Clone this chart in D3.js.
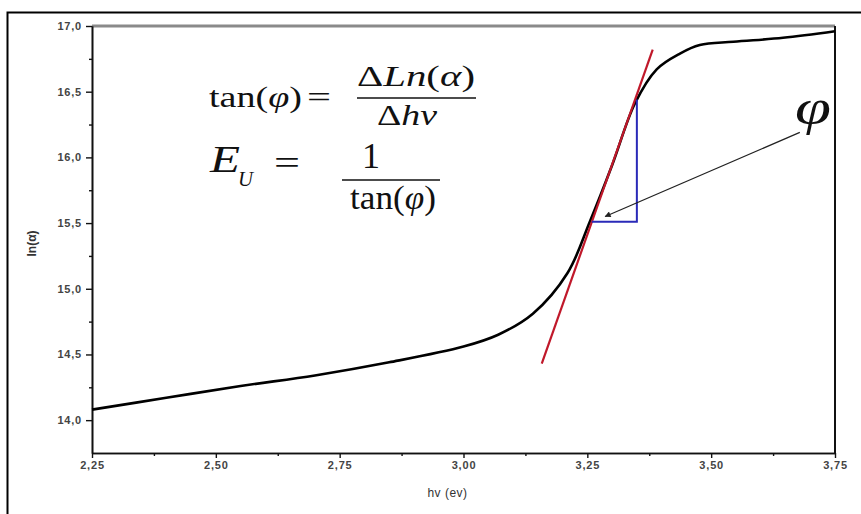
<!DOCTYPE html>
<html>
<head>
<meta charset="utf-8">
<script src="https://cdn.jsdelivr.net/npm/d3@7"></script>
<style>
  body { margin: 0; background: #fff; overflow: hidden; }
  .tick text { font-family: "Liberation Sans", Arial, sans-serif; font-size: 11px; fill: #444; font-weight: bold; letter-spacing: 0.8px; }
</style>
</head>
<body>
<div id="chart"></div>
<script>
var svgWidth = 861;
var svgHeight = 514;

var margin = {top: 26, right: 26, bottom: 61, left: 92};
var width = svgWidth - margin.left - margin.right;
var height = svgHeight - margin.top - margin.bottom;

// curve ln(alpha) vs photon energy
var hv = [2.25, 2.40, 2.55, 2.70, 2.85, 3.00, 3.07, 3.14, 3.21, 3.255, 3.30, 3.346, 3.39, 3.437, 3.477, 3.545, 3.645, 3.75];
var lnAlpha = [14.08, 14.17, 14.26, 14.34, 14.44, 14.56, 14.65, 14.81, 15.12, 15.51, 15.94, 16.41, 16.67, 16.79, 16.855, 16.88, 16.91, 16.96];

// tangent (red)
var tangentX = [3.158, 3.382];
var tangentY = [14.43, 16.82];

// triangle (blue)
var triX = [3.259, 3.350, 3.350];
var triY = [15.51, 15.51, 16.44];

// arrow from phi label to the angle
var arrowX = [3.679, 3.286];
var arrowY = [16.19, 15.55];

var xTicks = [2.25, 2.50, 2.75, 3.00, 3.25, 3.50, 3.75];
var xMinor = [2.375, 2.625, 2.875, 3.125, 3.375, 3.625];
var yTicks = [14.0, 14.5, 15.0, 15.5, 16.0, 16.5, 17.0];
var yMinor = [14.25, 14.75, 15.25, 15.75, 16.25, 16.75];

var svg = d3.select("#chart")
    .append("svg")
        .attr("width", svgWidth)
        .attr("height", svgHeight)
        .style("display", "block");

// outer frame: only left and top edges show
svg.append("path")
    .attr("d", "M7.5,514 L7.5,12.5 L861,12.5")
    .style("fill", "none").style("stroke", "#000").style("stroke-width", 2);

var chartGroup = svg.append("g")
    .attr("transform", `translate(${margin.left}, ${margin.top})`);

var x = d3.scaleLinear().domain([2.25, 3.75]).range([0, width]);
var y = d3.scaleLinear().domain([13.75, 17.0]).range([height, 0]);

var comma = function(f) { return function(d) { return d3.format(f)(d).replace(".", ","); }; };

// top border (grey)
chartGroup.append("line")
    .attr("x1", 0).attr("x2", width).attr("y1", 0).attr("y2", 0)
    .style("stroke", "#8a8a8a").style("stroke-width", 3);

// right border
chartGroup.append("line")
    .attr("x1", width).attr("x2", width).attr("y1", 0).attr("y2", height)
    .style("stroke", "#111").style("stroke-width", 2);

// x axis
chartGroup.append("g")
    .attr("transform", "translate(0," + height + ")")
    .call(d3.axisBottom(x).tickValues(xTicks).tickFormat(comma(".2f")).tickSize(5).tickSizeOuter(0).tickPadding(3));
chartGroup.append("g")
    .attr("transform", "translate(0," + height + ")")
    .call(d3.axisBottom(x).tickValues(xMinor).tickFormat("").tickSize(3).tickSizeOuter(0));

// y axis
chartGroup.append("g")
    .call(d3.axisLeft(y).tickValues(yTicks).tickFormat(comma(".1f")).tickSize(6).tickSizeOuter(0).tickPadding(4));
chartGroup.append("g")
    .call(d3.axisLeft(y).tickValues(yMinor).tickFormat("").tickSize(3).tickSizeOuter(0));

chartGroup.selectAll(".domain").style("stroke", "#111").style("stroke-width", 1.6);
chartGroup.selectAll(".tick line").style("stroke", "#111").style("stroke-width", 1.4);

// axis titles
chartGroup.append("text")
    .attr("transform", `translate(${width / 2 - 16}, ${height + 44})`)
    .style("text-anchor", "middle")
    .style("font-family", "Liberation Sans, Arial, sans-serif")
    .style("font-size", "12px").style("fill", "#333").style("letter-spacing", "0.5px")
    .text("hv (ev)");

chartGroup.append("text")
    .attr("transform", "translate(" + (-56) + "," + (height / 2 + 4) + ") rotate(270)")
    .style("text-anchor", "middle")
    .style("font-family", "Liberation Sans, Arial, sans-serif")
    .style("font-size", "12px").style("font-weight", "bold").style("fill", "#333")
    .text("ln(α)");

// data curve
var curveData = hv.map(function(d, i) { return {hv: d, ln: lnAlpha[i]}; });
var valueline = d3.line()
    .x(function(d) { return x(d.hv); })
    .y(function(d) { return y(d.ln); })
    .curve(d3.curveCatmullRom.alpha(0.5));

chartGroup.append("path")
    .style("stroke", "#000").style("stroke-width", 2.6).style("fill", "none")
    .attr("d", valueline(curveData));

// tangent line
chartGroup.append("line")
    .attr("x1", x(tangentX[0])).attr("y1", y(tangentY[0]))
    .attr("x2", x(tangentX[1])).attr("y2", y(tangentY[1]))
    .style("stroke", "#c0182a").style("stroke-width", 2.2);

// triangle
var triPts = triX.map(function(d, i) { return [x(d), y(triY[i])]; });
chartGroup.append("path")
    .attr("d", d3.line()(triPts))
    .style("stroke", "#2a2ab8").style("stroke-width", 2).style("fill", "none");

// arrow
svg.append("defs").append("marker")
    .attr("id", "arrow")
    .attr("viewBox", "0 0 10 10").attr("refX", 9).attr("refY", 5)
    .attr("markerWidth", 7).attr("markerHeight", 5).attr("orient", "auto")
    .append("path").attr("d", "M0,0 L10,5 L0,10 z").style("fill", "#222");

chartGroup.append("line")
    .attr("x1", x(arrowX[0])).attr("y1", y(arrowY[0]))
    .attr("x2", x(arrowX[1])).attr("y2", y(arrowY[1]))
    .attr("marker-end", "url(#arrow)")
    .style("stroke", "#222").style("stroke-width", 1.2);

// phi label
svg.append("text")
    .attr("x", 795).attr("y", 124)
    .style("font-family", "Liberation Serif, Times New Roman, serif")
    .style("font-style", "italic").style("font-size", "50px").style("fill", "#111")
    .attr("textLength", 36).attr("lengthAdjust", "spacingAndGlyphs")
    .text("φ");

// formulas
var serif = "Liberation Serif, Times New Roman, serif";
function addText(tx, ty, size, str, italic, len) {
    var t = svg.append("text")
        .attr("x", tx).attr("y", ty)
        .style("font-family", serif)
        .style("font-size", size + "px").style("fill", "#111")
        .style("font-style", italic ? "italic" : "normal")
        .text(str);
    if (len) t.attr("textLength", len).attr("lengthAdjust", "spacingAndGlyphs");
    return t;
}

// tan(phi) = dLn(alpha)/dhv
var f1 = svg.append("text").attr("x", 209).attr("y", 107)
    .style("font-family", serif).style("font-size", "30px").style("fill", "#111")
    .attr("textLength", 93).attr("lengthAdjust", "spacingAndGlyphs");
f1.append("tspan").text("tan(");
f1.append("tspan").style("font-style", "italic").text("φ");
f1.append("tspan").text(")");
addText(307, 107, 30, "=", false, 24);
var num1 = svg.append("text").attr("x", 357).attr("y", 86)
    .style("font-family", serif).style("font-size", "30px").style("fill", "#111")
    .attr("textLength", 118).attr("lengthAdjust", "spacingAndGlyphs");
num1.append("tspan").text("Δ");
num1.append("tspan").style("font-style", "italic").text("Ln");
num1.append("tspan").text("(");
num1.append("tspan").style("font-style", "italic").text("α");
num1.append("tspan").text(")");
svg.append("line").attr("x1", 357).attr("x2", 476).attr("y1", 98).attr("y2", 98)
    .style("stroke", "#111").style("stroke-width", 1.6);
var den1 = svg.append("text").attr("x", 377).attr("y", 125)
    .style("font-family", serif).style("font-size", "30px").style("fill", "#111")
    .attr("textLength", 60).attr("lengthAdjust", "spacingAndGlyphs");
den1.append("tspan").text("Δ");
den1.append("tspan").style("font-style", "italic").text("hν");

// E_U = 1/tan(phi)
addText(210, 172, 38, "E", true, 30);
addText(238, 186, 22, "U", true, 15);
addText(274, 174, 34, "=", false, 26);
addText(371, 168, 36, "1", false).style("text-anchor", "middle");
svg.append("line").attr("x1", 342).attr("x2", 440).attr("y1", 180).attr("y2", 180)
    .style("stroke", "#111").style("stroke-width", 1.6);
var den2 = svg.append("text").attr("x", 350).attr("y", 209)
    .style("font-family", serif).style("font-size", "33px").style("fill", "#111")
    .attr("textLength", 86).attr("lengthAdjust", "spacingAndGlyphs");
den2.append("tspan").text("tan(");
den2.append("tspan").style("font-style", "italic").text("φ");
den2.append("tspan").text(")");
</script>
</body>
</html>
